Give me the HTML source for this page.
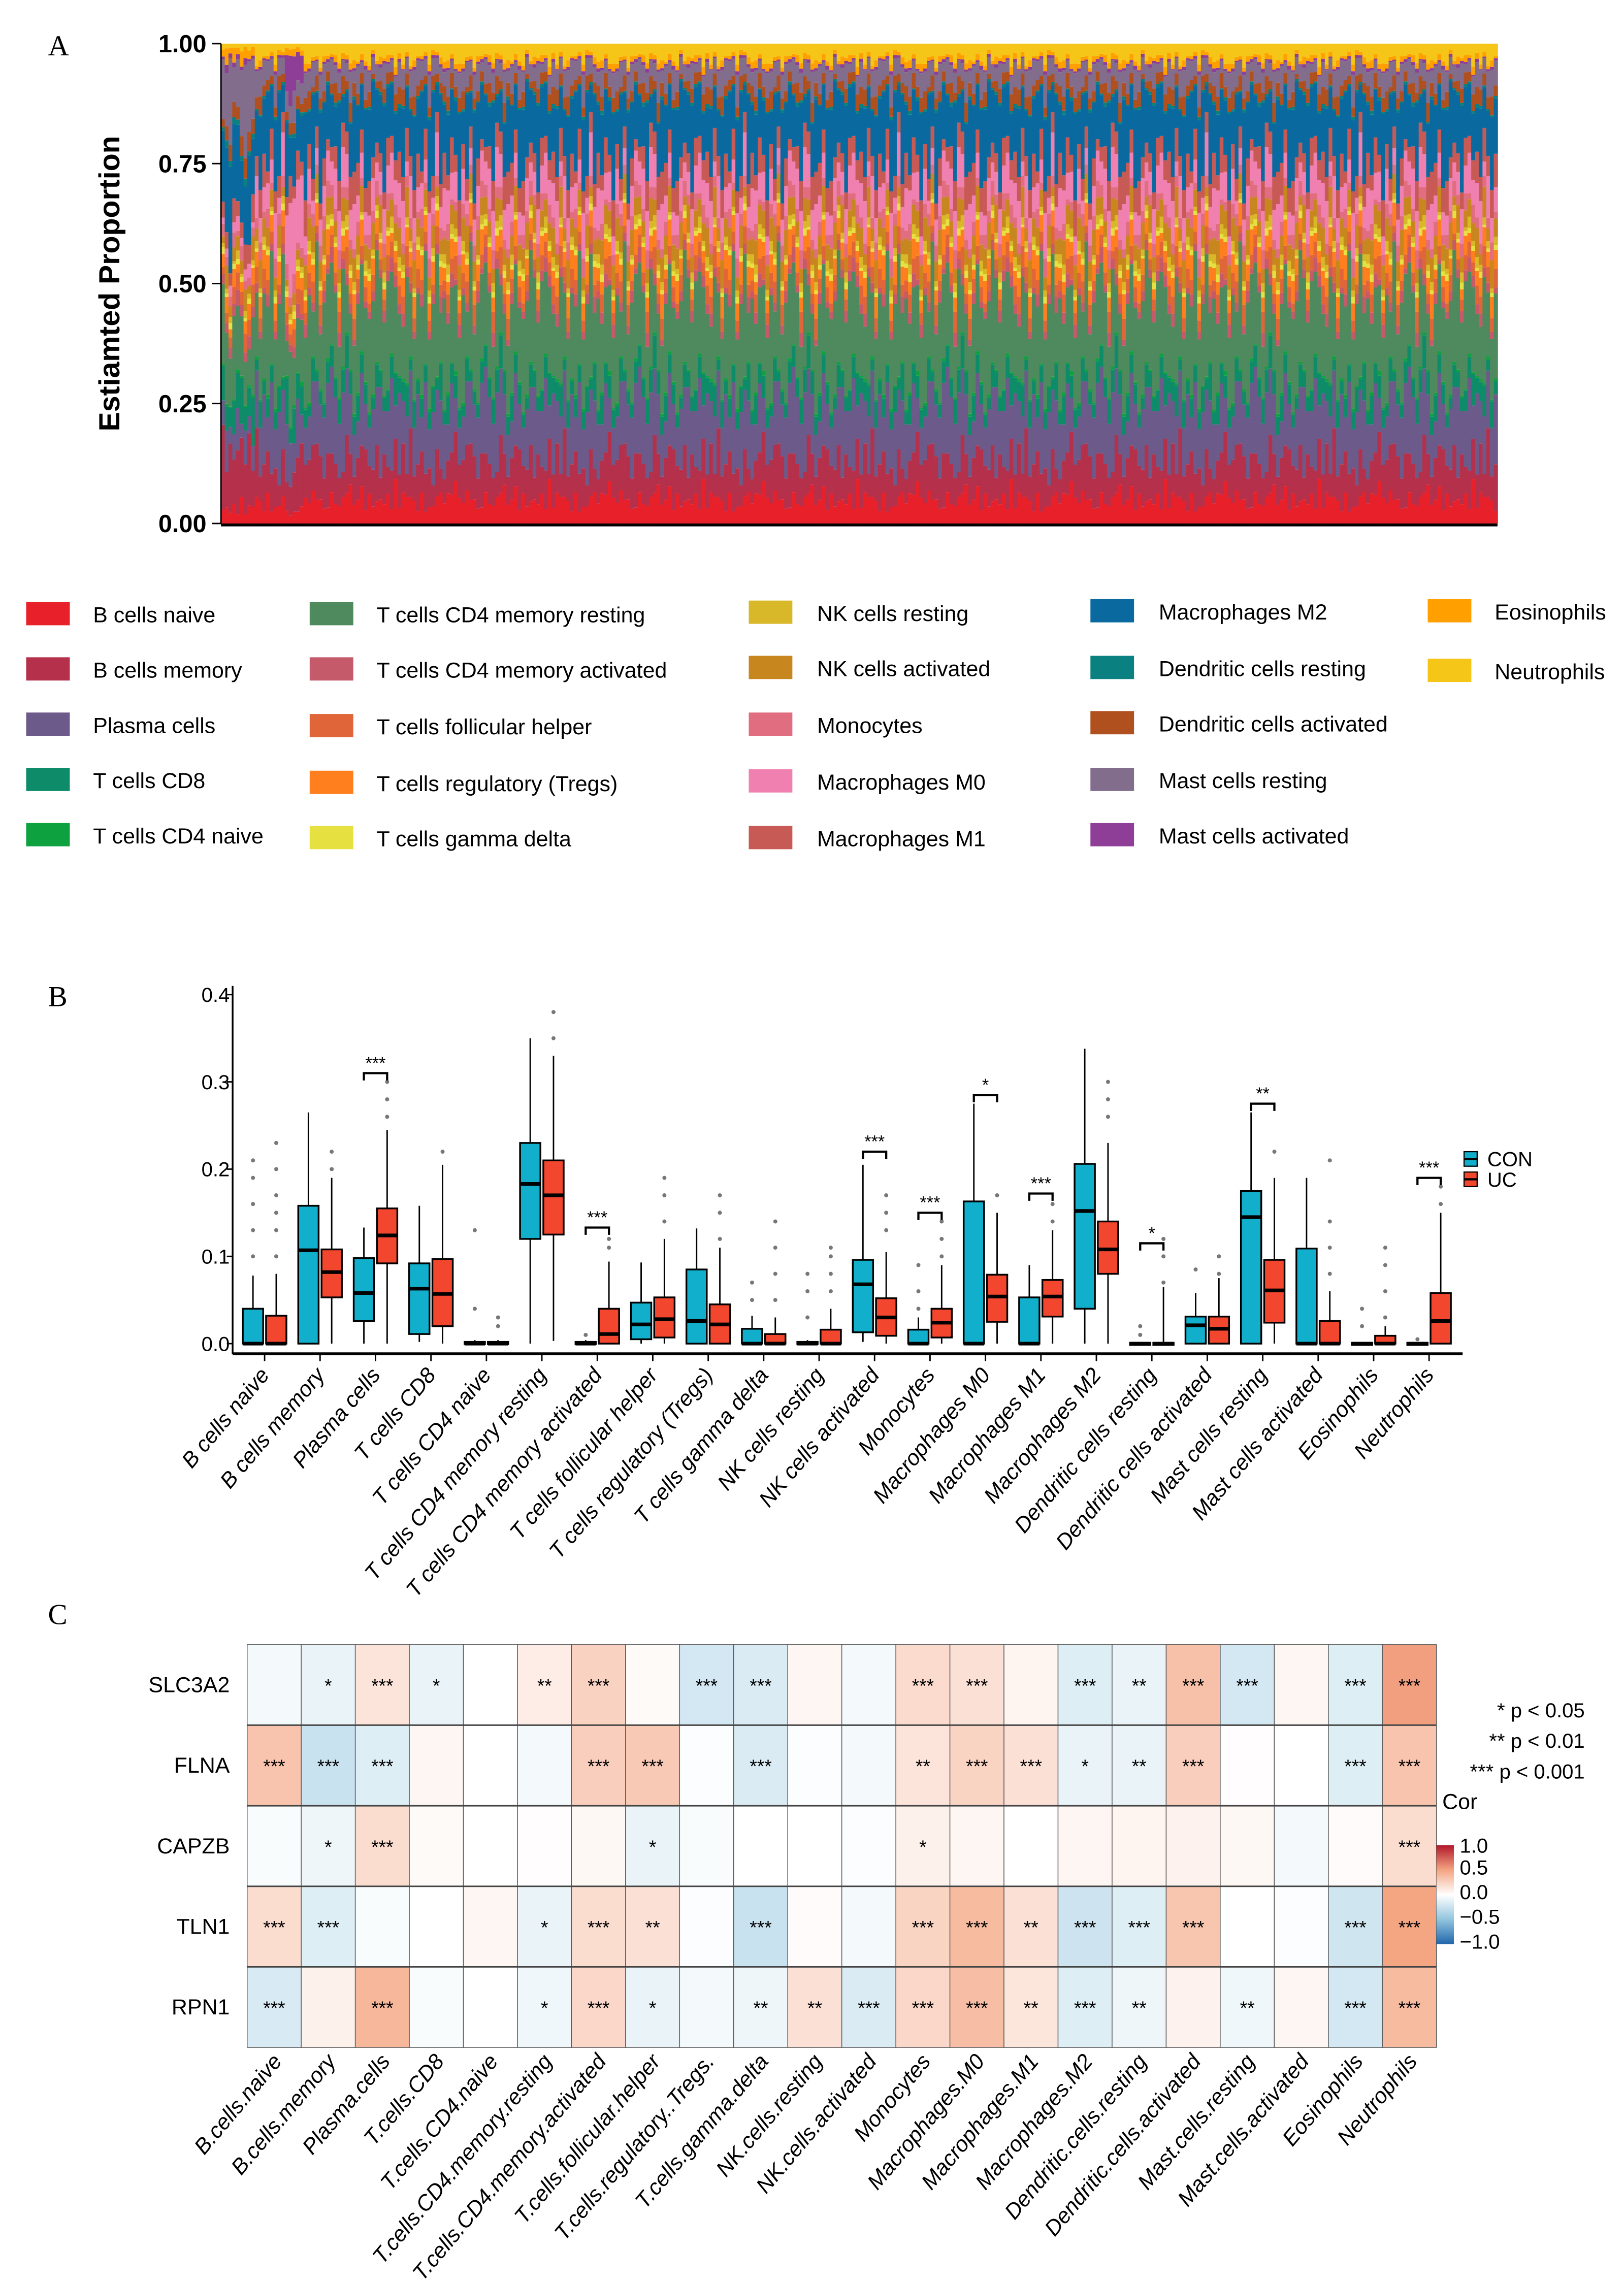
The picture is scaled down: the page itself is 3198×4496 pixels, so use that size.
<!DOCTYPE html>
<html><head><meta charset="utf-8"><style>
html,body{margin:0;padding:0;background:#fff;}
svg{display:block;font-family:"Liberation Sans",sans-serif;}
.serif{font-family:"Liberation Serif",serif;}
</style></head><body>
<svg id="fig" xmlns="http://www.w3.org/2000/svg" width="3198" height="4496" viewBox="0 0 1117 1570" preserveAspectRatio="none">
<rect width="1117" height="1570" fill="#fff"/>
<text class="serif" x="33" y="38" font-size="20">A</text>
<text class="serif" x="33" y="692" font-size="20">B</text>
<text class="serif" x="33" y="1117" font-size="20">C</text>
<g id="pa"></g>
<g id="pb"></g>
<g id="pc"></g>
</svg>
<script>
const NS="http://www.w3.org/2000/svg";
function mk(parent,tag,attrs,text){const e=document.createElementNS(NS,tag);for(const k in attrs)e.setAttribute(k,attrs[k]);if(text!==undefined)e.textContent=text;parent.appendChild(e);return e;}

// ---------- Panel A data ----------
const cellTypes=["B cells naive","B cells memory","Plasma cells","T cells CD8","T cells CD4 naive","T cells CD4 memory resting","T cells CD4 memory activated","T cells follicular helper","T cells regulatory (Tregs)","T cells gamma delta","NK cells resting","NK cells activated","Monocytes","Macrophages M0","Macrophages M1","Macrophages M2","Dendritic cells resting","Dendritic cells activated","Mast cells resting","Mast cells activated","Eosinophils","Neutrophils"];
const cellColors=["#E8202A","#B5304A","#6C5A8A","#0E8C6A","#0EA13F","#4E8A5E","#C45A6A","#E0663A","#FF7F1E","#E6E040","#D8B828","#C8861E","#E06E80","#F080B0","#C85A55","#0A6AA0","#0A8080","#B0501E","#826E8C","#8E3E96","#FFA000","#F5C518"];
const meanProps=[0.05,0.08,0.12,0.04,0.005,0.17,0.02,0.03,0.035,0.01,0.015,0.04,0.025,0.06,0.05,0.12,0.005,0.025,0.04,0.005,0.01,0.03];
const mastRestingSample=[0.03,0.12,0.05,0.06,0.005,0.12,0.02,0.03,0.03,0.01,0.01,0.03,0.02,0.02,0.04,0.16,0.01,0.03,0.15,0.01,0.02,0.01];
const mastActivatedSample=[0.02,0.1,0.1,0.05,0.005,0.12,0.02,0.03,0.03,0.01,0.01,0.02,0.03,0.14,0.04,0.1,0.005,0.02,0.05,0.07,0.01,0.01];
const jitter=[1.0,0.6,1.3,0.8,1.5,0.7,1.1,0.9,1.4,0.5,1.2,1.0,0.7,1.6,0.8,1.1,0.6,1.3,0.9,1.2,0.5,1.4,1.0,0.8,1.5,0.7,1.1,1.3,0.6,0.9,1.2,1.0,0.7,1.4,0.8,1.6,0.6,1.1,0.9,1.3,0.75];
const nSamples=340;
const specialIdx=[0,1,2,3,4,5,6,7,8,17,18,19,20,21];
const specialKind=[0,0,0,0,0,0,0,0,0,1,1,1,1,1];
const aTicks=[0,0.25,0.5,0.75,1];

(function(){
 const g=document.getElementById('pa');
 const x0=152,x1=1030,yT=30,yB=360;
 const ys=v=>yB-(yB-yT)*v;
 const bw=(x1-x0)/nSamples;
 for(let s=0;s<nSamples;s++){
  let base=meanProps;const k=specialIdx.indexOf(s);
  if(k>=0)base=specialKind[k]===0?mastRestingSample:mastActivatedSample;
  const p=base.map((v,c)=>v*jitter[(s*7+c*13)%jitter.length]);
  const tot=p.reduce((a,b)=>a+b,0);let acc=0;
  for(let c=0;c<p.length;c++){
   const v=p[c]/tot;const yA=ys(acc),yBv=ys(acc+v);acc+=v;
   const r=mk(g,'rect',{x:x0+s*bw,y:yBv,width:bw+0.3,height:yA-yBv,fill:cellColors[c]});
   
   
  }
 }
 mk(g,'line',{x1:x0,y1:yT,x2:x0,y2:yB,stroke:'#000','stroke-width':1,});
 mk(g,'line',{x1:x0,y1:yB+1,x2:x1,y2:yB+1,stroke:'#000','stroke-width':2,});
 aTicks.forEach(t=>{
  mk(g,'line',{x1:x0-6,y1:ys(t),x2:x0,y2:ys(t),stroke:'#000','stroke-width':1});
  const tx=mk(g,'text',{x:x0-10,y:ys(t)+6,'text-anchor':'end','font-size':17,'font-weight':'bold'},t.toFixed(2));
  
  
 });
 mk(g,'text',{x:0,y:0,transform:'translate(82,195) rotate(-90)','text-anchor':'middle','font-size':20,'font-weight':'bold',},'Estiamted Proportion');
 const colX=[18,213,515,750,982],txtX=[64,259,562,797,1028];
 const rowY=[[423,461,499,537,575],[423,461,500,539,577],[422,460,499,538,577],[421,460,498,537,575],[421,462]];
 let i=0;
 for(let c=0;c<5;c++){for(let r=0;r<rowY[c].length;r++){
  const lg=mk(g,'g',{});
  
  
  mk(lg,'rect',{x:colX[c],y:rowY[c][r]-9,width:30,height:16,fill:cellColors[i]});
  mk(lg,'text',{x:txtX[c],y:rowY[c][r]+5,'font-size':15},cellTypes[i]);
  i++;
 }}
})();

// ---------- Panel B data ----------
const bCats=["B cells naive","B cells memory","Plasma cells","T cells CD8","T cells CD4 naive","T cells CD4 memory resting","T cells CD4 memory activated","T cells follicular helper","T cells regulatory (Tregs)","T cells gamma delta","NK cells resting","NK cells activated","Monocytes","Macrophages M0","Macrophages M1","Macrophages M2","Dendritic cells resting","Dendritic cells activated","Mast cells resting","Mast cells activated","Eosinophils","Neutrophils"];
const conLo=[0,0,0,0.002,0,0,0,0,0,0,0,0.002,0,0,0,0,0,0,0,0,0,0];
const conQ1=[0,0,0.026,0.011,0,0.12,0,0.005,0,0,0,0.013,0,0,0,0.04,0,0,0,0,0,0];
const conMed=[0,0.107,0.058,0.063,0,0.183,0,0.022,0.026,0,0,0.068,0,0,0,0.152,0,0.021,0.145,0,0,0];
const conQ3=[0.04,0.158,0.098,0.092,0.002,0.23,0.002,0.047,0.085,0.017,0.002,0.096,0.016,0.163,0.053,0.206,0.001,0.031,0.175,0.109,0.001,0.001];
const conHi=[0.078,0.265,0.133,0.158,0.004,0.35,0.004,0.093,0.132,0.032,0.004,0.205,0.03,0.275,0.09,0.338,0.002,0.058,0.265,0.19,0.002,0.002];
const ucLo=[0,0,0,0,0,0.003,0,0,0,0,0,0,0,0,0,0,0,0,0,0,0,0];
const ucQ1=[0,0.053,0.092,0.02,0,0.125,0,0.007,0,0,0,0.009,0.007,0.025,0.031,0.08,0,0,0.024,0,0,0];
const ucMed=[0,0.082,0.124,0.057,0,0.17,0.011,0.028,0.022,0,0,0.03,0.024,0.054,0.054,0.108,0,0.017,0.061,0,0,0.026];
const ucQ3=[0.032,0.108,0.155,0.097,0.002,0.21,0.04,0.053,0.045,0.011,0.016,0.052,0.04,0.079,0.073,0.14,0.001,0.031,0.096,0.026,0.009,0.058];
const ucHi=[0.08,0.19,0.245,0.205,0.004,0.33,0.094,0.12,0.11,0.03,0.04,0.105,0.09,0.15,0.13,0.23,0.065,0.075,0.19,0.06,0.02,0.15];
const conOut=[[0.1,0.13,0.16,0.19,0.21],[],[],[],[0.04,0.13],[],[0.01],[],[],[0.05,0.07],[0.03,0.06,0.08],[],[0.04,0.06,0.09],[],[],[],[0.01,0.02],[0.085],[],[],[0.02,0.04],[0.005]];
const ucOut=[[0.1,0.13,0.15,0.17,0.2,0.23],[0.2,0.22],[0.26,0.28,0.3],[0.22],[0.02,0.03],[0.35,0.38],[0.11,0.12],[0.14,0.17,0.19],[0.12,0.15,0.17],[0.05,0.08,0.11,0.14],[0.06,0.08,0.1,0.11],[0.13,0.15,0.17],[0.1,0.12,0.14],[0.17],[0.14,0.16],[0.26,0.28,0.3],[0.07,0.1,0.12],[0.08,0.1],[0.22],[0.08,0.11,0.14,0.21],[0.03,0.06,0.09,0.11],[0.16,0.18]];
const sigIdx=[2,6,11,12,13,14,16,18,21];
const sigLabel=["***","***","***","***","*","***","*","**","***"];
const sigY=[0.31,0.133,0.22,0.15,0.285,0.172,0.115,0.275,0.19];
const bTicks=[0,0.1,0.2,0.3,0.4];

(function(){
 const g=document.getElementById('pb');
 const ax=160,axR=1006,y0=924,per=600;
 const ys=v=>y0-v*per;
 const cx=i=>182+i*38.14;
 const bw=14;
 mk(g,'line',{x1:ax,y1:ys(0.41),x2:ax,y2:931,stroke:'#000','stroke-width':1.2,});
 mk(g,'line',{x1:ax,y1:931,x2:axR,y2:931,stroke:'#000','stroke-width':2,});
 bTicks.forEach(t=>{
  mk(g,'line',{x1:ax-4,y1:ys(t),x2:ax,y2:ys(t),stroke:'#000'});
  const tx=mk(g,'text',{x:ax-2,y:ys(t)+5,'text-anchor':'end','font-size':14},t.toFixed(1));
  
  
 });
 function box(i,off,lo,q1,md,q3,hi,outs,col,name){
  const x=cx(i)+off;
  const bg=mk(g,'g',{});
  
  
  mk(bg,'line',{x1:x,y1:ys(hi),x2:x,y2:ys(lo),stroke:'#000','stroke-width':1});
  mk(bg,'rect',{x:x-bw/2,y:ys(q3),width:bw,height:Math.max(ys(q1)-ys(q3),1.5),fill:col,stroke:'#000','stroke-width':1.2});
  mk(bg,'line',{x1:x-bw/2,y1:ys(md),x2:x+bw/2,y2:ys(md),stroke:'#000','stroke-width':2.5});
  outs.forEach(o=>mk(bg,'circle',{cx:x,cy:ys(o),r:1.4,fill:'#777'}));
 }
 for(let i=0;i<bCats.length;i++){
  box(i,-8,conLo[i],conQ1[i],conMed[i],conQ3[i],conHi[i],conOut[i],'#12AFCC','box-con');
  box(i,8,ucLo[i],ucQ1[i],ucMed[i],ucQ3[i],ucHi[i],ucOut[i],'#F2462E','box-uc');
  mk(g,'line',{x1:cx(i),y1:931,x2:cx(i),y2:936,stroke:'#000'});
  const lb=mk(g,'text',{x:0,y:0,transform:`translate(${cx(i)+4},${946}) rotate(-50)`,'text-anchor':'end','font-size':15,'font-style':'italic'},bCats[i]);
  
  
 }
 sigIdx.forEach((ci,k)=>{
  const y=ys(sigY[k]);const x=cx(ci);
  const sg=mk(g,'g',{});
  
  
  mk(sg,'path',{d:`M${x-8},${y+5}V${y}H${x+8}V${y+5}`,fill:'none',stroke:'#000','stroke-width':1.5});
  mk(sg,'text',{x:x,y:y-3,'text-anchor':'middle','font-size':12},sigLabel[k]);
 });
 const lg=[['CON','#12AFCC',797],['UC','#F2462E',811]];
 lg.forEach(l=>{
  const e=mk(g,'g',{});
  
  
  mk(e,'rect',{x:1007,y:l[2]-5,width:9,height:10,fill:l[1],stroke:'#000','stroke-width':0.8});
  mk(e,'line',{x1:1007,y1:l[2],x2:1016,y2:l[2],stroke:'#000','stroke-width':1.5});
  mk(e,'text',{x:1023,y:l[2]+5,'font-size':14},l[0]);
 });
})();

// ---------- Panel C data ----------
const genes=["SLC3A2","FLNA","CAPZB","TLN1","RPN1"];
const hCols=["B.cells.naive","B.cells.memory","Plasma.cells","T.cells.CD8","T.cells.CD4.naive","T.cells.CD4.memory.resting","T.cells.CD4.memory.activated","T.cells.follicular.helper","T.cells.regulatory..Tregs.","T.cells.gamma.delta","NK.cells.resting","NK.cells.activated","Monocytes","Macrophages.M0","Macrophages.M1","Macrophages.M2","Dendritic.cells.resting","Dendritic.cells.activated","Mast.cells.resting","Mast.cells.activated","Eosinophils","Neutrophils"];
const corSLC3A2=[-0.05,-0.1,0.15,-0.1,0,0.1,0.25,0.03,-0.2,-0.17,0.05,-0.05,0.2,0.17,0.06,-0.15,-0.1,0.35,-0.2,0.05,-0.15,0.52];
const corFLNA=[0.33,-0.25,-0.15,0.05,0,-0.05,0.27,0.3,-0.02,-0.17,-0.02,-0.05,0.15,0.24,0.17,-0.1,-0.1,0.27,0.01,0,-0.15,0.33];
const corCAPZB=[-0.03,-0.08,0.19,0.03,0,0.01,0.04,-0.1,-0.03,0,0,-0.02,0.08,0.05,0,0.05,0.06,0.07,0.04,-0.05,0.02,0.19];
const corTLN1=[0.19,-0.15,-0.03,0,0.05,-0.1,0.19,0.17,-0.02,-0.25,0.02,-0.05,0.24,0.38,0.17,-0.23,-0.15,0.32,0,-0.02,-0.22,0.5];
const corRPN1=[-0.18,0.08,0.4,-0.03,0,-0.07,0.22,-0.1,-0.05,-0.08,0.17,-0.17,0.22,0.36,0.14,-0.15,-0.08,0.07,-0.07,0.05,-0.2,0.38];
const sigSLC3A2=["","*","***","*","","**","***","","***","***","","","***","***","","***","**","***","***","","***","***"];
const sigFLNA=["***","***","***","","","","***","***","","***","","","**","***","***","*","**","***","","","***","***"];
const sigCAPZB=["","*","***","","","","","*","","","","","*","","","","","","","","","***"];
const sigTLN1=["***","***","","","","*","***","**","","***","","","***","***","**","***","***","***","","","***","***"];
const sigRPN1=["***","","***","","","*","***","*","","**","**","***","***","***","**","***","**","","**","","***","***"];

(function(){
 const g=document.getElementById('pc');
 const cors=[corSLC3A2,corFLNA,corCAPZB,corTLN1,corRPN1];
 const sigs=[sigSLC3A2,sigFLNA,sigCAPZB,sigTLN1,sigRPN1];
 const x0=170,x1=988,y0=1131,y1=1408;
 const cw=(x1-x0)/hCols.length,rh=(y1-y0)/genes.length;
 function col(v){
  const lerp=(a,b,t)=>Math.round(a+(b-a)*t);
  let c;
  if(v>=0){const t=Math.min(v,1);c=t<0.5?[lerp(255,244,t*2),lerp(255,165,t*2),lerp(255,130,t*2)]:[lerp(244,178,(t-0.5)*2),lerp(165,24,(t-0.5)*2),lerp(130,43,(t-0.5)*2)];}
  else{const t=Math.min(-v,1);c=t<0.5?[lerp(255,146,t*2),lerp(255,197,t*2),lerp(255,222,t*2)]:[lerp(146,33,(t-0.5)*2),lerp(197,102,(t-0.5)*2),lerp(222,172,(t-0.5)*2)];}
  return `rgb(${c[0]},${c[1]},${c[2]})`;
 }
 for(let r=0;r<genes.length;r++){
  const rl=mk(g,'text',{x:158,y:y0+r*rh+rh/2+5,'text-anchor':'end','font-size':15},genes[r]);
  
  
  for(let c=0;c<hCols.length;c++){
   const cell=mk(g,'rect',{x:x0+c*cw,y:y0+r*rh,width:cw,height:rh,fill:col(cors[r][c]),stroke:'#555','stroke-width':0.5});
   
   
   if(sigs[r][c]){mk(g,'text',{x:x0+c*cw+cw/2,y:y0+r*rh+rh/2+5,'text-anchor':'middle','font-size':13},sigs[r][c]);}
  }
  if(r>0)mk(g,'line',{x1:x0,y1:y0+r*rh,x2:x1,y2:y0+r*rh,stroke:'#444','stroke-width':1});
 }
 for(let c=0;c<hCols.length;c++){
  const lb=mk(g,'text',{x:0,y:0,transform:`translate(${x0+c*cw+cw/2+6},${1418}) rotate(-50)`,'text-anchor':'end','font-size':15,'font-style':'italic'},hCols[c]);
  
  
 }
 const pl=[["* p < 0.05",1181],["** p < 0.01",1202],["*** p < 0.001",1223]];
 pl.forEach(p=>{const t=mk(g,'text',{x:1090,y:p[1],'text-anchor':'end','font-size':14},p[0]);
  });
 mk(g,'text',{x:992,y:1244,'font-size':15,},'Cor');
 const defs=mk(g,'defs',{});
 const lgd=mk(defs,'linearGradient',{id:'cg',x1:0,y1:0,x2:0,y2:1});
 [[0,'#B2182B'],[0.25,'#F4A582'],[0.5,'#FFFFFF'],[0.75,'#92C5DE'],[1,'#2166AC']].forEach(s=>mk(lgd,'stop',{offset:s[0],'stop-color':s[1]}));
 mk(g,'rect',{x:988,y:1269,width:12,height:68,fill:'url(#cg)',});
 const cbT=[["1.0",1274],["0.5",1289],["0.0",1306],["\u22120.5",1323],["\u22121.0",1340]];
 cbT.forEach(t=>{mk(g,'text',{x:1004,y:t[1],'font-size':14},t[0]);});
})();
</script>
</body></html>
